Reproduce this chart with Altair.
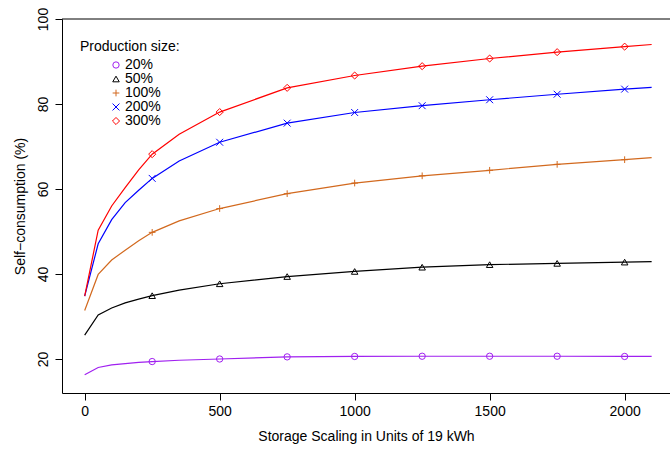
import altair as alt
import pandas as pd

# ---- data ----
x_vals = [0, 50, 100, 150, 200, 250, 350, 500, 750, 1000, 1250, 1500, 1750, 2000, 2100]
marker_x = [250, 500, 750, 1000, 1250, 1500, 1750, 2000]
series_names = ["20%", "50%", "100%", "200%", "300%"]

y_20 = [16.3, 18.0, 18.6, 18.9, 19.2, 19.4, 19.7, 20.0, 20.5, 20.6, 20.65, 20.65, 20.65, 20.6, 20.6]
y_50 = [25.6, 30.35, 32.0, 33.2, 34.1, 34.9, 36.2, 37.7, 39.4, 40.6, 41.6, 42.2, 42.5, 42.8, 42.9]
y_100 = [31.4, 39.9, 43.3, 45.6, 47.8, 49.8, 52.5, 55.4, 58.9, 61.4, 63.1, 64.4, 65.8, 66.9, 67.4]
y_200 = [34.8, 47.1, 52.8, 56.8, 59.7, 62.5, 66.6, 71.0, 75.5, 78.0, 79.6, 81.0, 82.3, 83.5, 83.9]
y_300 = [34.8, 50.3, 56.0, 60.3, 64.5, 68.2, 72.9, 78.1, 83.8, 86.7, 88.9, 90.7, 92.2, 93.5, 94.0]

x_ticks = [0, 500, 1000, 1500, 2000]
y_ticks = [20, 40, 60, 80, 100]
legend_title = "Production size:"
x_title = "Storage Scaling in Units of 19 kWh"
y_title = "Self\u2212consumption (%)"

# ---- styles ----
colors = ["#A020F0", "#000000", "#D2691E", "#0000FF", "#FF0000"]
shapes = ["circle", "triangle-up", "M-1,0L1,0M0,-1L0,1", "M-1,-1L1,1M-1,1L1,-1", "diamond"]
sizes = [40, 50, 49, 30, 45]
FONT = "Liberation Sans"
FS = 14

rows = []
for name, ys in zip(series_names, [y_20, y_50, y_100, y_200, y_300]):
    for xv, yv in zip(x_vals, ys):
        rows.append({"x": xv, "y": yv, "series": name, "marker": xv in marker_x})
df = pd.DataFrame(rows)
legend_df = pd.DataFrame({"series": series_names})

W, H = 608, 374
xscale = alt.Scale(domain=[-84, 2168], nice=False, zero=False)
yscale = alt.Scale(domain=[12, 100], nice=False, zero=False)
color_scale = alt.Scale(domain=series_names, range=colors)
shape_scale = alt.Scale(domain=series_names, range=shapes)
size_scale = alt.Scale(domain=series_names, range=sizes)

base = alt.Chart(df)

lines = base.mark_line(strokeWidth=1.2).encode(
    x=alt.X("x:Q", scale=xscale,
            axis=alt.Axis(values=x_ticks, format="d", title=x_title, labelPadding=4, titlePadding=11)),
    y=alt.Y("y:Q", scale=yscale,
            axis=alt.Axis(values=y_ticks, format="d", title=y_title, labelAngle=270, labelAlign="center",
                          labelBaseline="alphabetic", labelPadding=8, titlePadding=9)),
    color=alt.Color("series:N", scale=color_scale, legend=None),
)

points = base.transform_filter("datum.marker").mark_point(filled=False, strokeWidth=1, opacity=1).encode(
    x="x:Q",
    y="y:Q",
    color=alt.Color("series:N", scale=color_scale, legend=None),
    shape=alt.Shape("series:N", scale=shape_scale, legend=None),
    size=alt.Size("series:N", scale=size_scale, legend=None),
)

main = alt.layer(lines, points)

# legend drawn from the same scales (symbols + labels), placed in the top-left
leg_y = alt.Y("series:N", scale=alt.Scale(type="point", domain=series_names, range=[46, 102], padding=0),
              axis=None)
legend_pts = alt.Chart(legend_df).mark_point(filled=False, strokeWidth=1, opacity=1).encode(
    x=alt.value(54), y=leg_y,
    color=alt.Color("series:N", scale=color_scale, legend=None),
    shape=alt.Shape("series:N", scale=shape_scale, legend=None),
    size=alt.Size("series:N", scale=size_scale, legend=None),
)
legend_lbl = alt.Chart(legend_df).mark_text(
    align="left", baseline="middle", fontSize=FS, font=FONT, color="black"
).encode(x=alt.value(63), y=leg_y, text="series:N")

legend = alt.layer(legend_pts, legend_lbl)

top_rule = alt.Chart(pd.DataFrame({"a": [0]})).mark_rule(color="black", strokeWidth=1).encode(
    x=alt.value(0), x2=alt.value(W), y=alt.value(0)
)

title_text = alt.Chart(pd.DataFrame({"t": [legend_title]})).mark_text(
    align="left", baseline="middle", fontSize=FS, font=FONT, color="black"
).encode(x=alt.value(18), y=alt.value(28), text="t:N")

chart = alt.layer(main, legend, top_rule, title_text).resolve_scale(
    y="independent"
).properties(
    width=W, height=H,
    padding={"left": 62, "top": 19, "right": 0, "bottom": 57},
    autosize=alt.AutoSizeParams(type="none"),
    background="white",
).configure_view(stroke=None).configure_axis(
    grid=False, domainColor="black", tickColor="black", labelColor="black", titleColor="black",
    tickSize=7, domainWidth=1, tickWidth=1, labelFontSize=FS, titleFontSize=FS,
    titleFontWeight="normal", labelFont=FONT, titleFont=FONT, labelFlush=False,
)

chart.save("out.html", embed_options={"renderer": "svg", "actions": False})
